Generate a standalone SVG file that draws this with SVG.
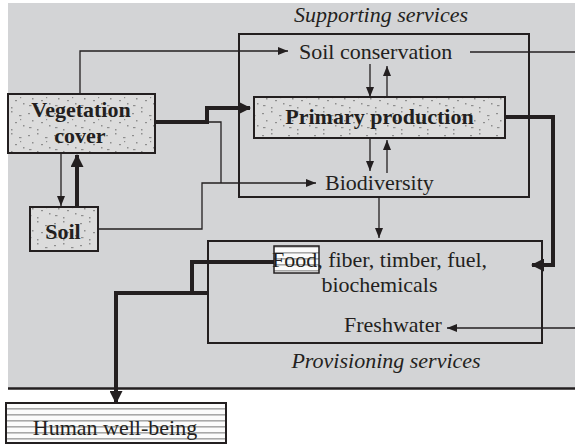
<svg xmlns="http://www.w3.org/2000/svg" width="575" height="447" viewBox="0 0 575 447">
<style>
.bx{stroke:#231f20;stroke-width:2;}
.st{fill:url(#stip);}
.ln{fill:none;stroke:#231f20;stroke-width:1.3;}
.tk{fill:none;stroke:#231f20;stroke-width:4;}
.t{font-family:"Liberation Serif","Times New Roman",serif;font-size:22px;fill:#231f20;}
.b{font-weight:bold;}
.i{font-style:italic;}
</style>
<defs>
<pattern id="stip" width="26" height="22" patternUnits="userSpaceOnUse">
<rect width="26" height="22" fill="#dcdcdc"/>
<g fill="#8e8e8e">
<rect x="2" y="3" width="2" height="1.2"/>
<rect x="11" y="1" width="1.5" height="1.5"/>
<rect x="19" y="5" width="2.5" height="1.2"/>
<rect x="6" y="10" width="1.5" height="1.5"/>
<rect x="15" y="12" width="2" height="1.2"/>
<rect x="23" y="15" width="1.5" height="1.5"/>
<rect x="3" y="17" width="2.5" height="1.2"/>
<rect x="11" y="19" width="1.5" height="1.5"/>
<rect x="20" y="9" width="1.2" height="1.2"/>
</g>
</pattern>
<pattern id="strp" width="10" height="6" patternUnits="userSpaceOnUse">
<rect width="10" height="6" fill="#fbfbfb"/>
<rect y="0" width="10" height="1.6" fill="#a8a8a8"/>
</pattern>
<marker id="a" markerUnits="userSpaceOnUse" markerWidth="10" markerHeight="8" refX="10" refY="4" orient="auto">
<path d="M0,0 L10,4 L0,8 z" fill="#231f20"/>
</marker>
<marker id="A" markerUnits="userSpaceOnUse" markerWidth="13" markerHeight="13" refX="12" refY="6.5" orient="auto">
<path d="M0,0 L13,6.5 L0,13 z" fill="#231f20"/>
</marker>
</defs>
<rect x="8" y="3" width="567" height="385" fill="#d3d4d6"/>
<line x1="8" y1="388.5" x2="575" y2="388.5" stroke="#231f20" stroke-width="2.5"/>

<text class="t i" x="381" y="22" text-anchor="middle">Supporting services</text>
<text class="t i" x="386" y="368" text-anchor="middle">Provisioning services</text>

<g id="supporting-services">
<rect class="bx" x="239" y="34" width="290" height="163" fill="none"/>
</g>
<g id="provisioning-services">
<rect class="bx" x="208" y="241" width="334" height="102" fill="none"/>
</g>

<g id="connectors">
<path class="ln" d="M80,94 V51 H288" marker-end="url(#a)"/>
<path class="ln" d="M470,52 H575"/>
<path class="ln" d="M370,64 V97" marker-end="url(#a)"/>
<path class="ln" d="M387,97 V66" marker-end="url(#a)"/>
<path class="ln" d="M370,138 V171" marker-end="url(#a)"/>
<path class="ln" d="M387,173 V140" marker-end="url(#a)"/>
<path class="ln" d="M207,122 H221 V183"/>
<path class="ln" d="M98,229 H202 V183 H316" marker-end="url(#a)"/>
<path class="ln" d="M61,153 V206" marker-end="url(#a)"/>
<path class="ln" d="M379,197 V238" marker-end="url(#a)"/>
<path class="ln" d="M575,328 H447" marker-end="url(#a)"/>
<path class="tk" d="M155,122 H207 V108 H250" marker-end="url(#A)"/>
<path class="tk" d="M77,207 V155" marker-end="url(#A)"/>
<path class="tk" d="M497,117 H553 V265 H532" marker-end="url(#A)"/>
<path class="tk" d="M274,262 H192 V293"/>
<path class="tk" d="M208,293 H116 V403" marker-end="url(#A)"/>
</g>

<g id="vegetation-cover">
<rect class="bx st" x="8" y="94" width="147" height="59"/>
<text class="t b" x="81" y="117" text-anchor="middle">Vegetation</text>
<text class="t b" x="80" y="143" text-anchor="middle">cover</text>
</g>
<g id="soil">
<rect class="bx st" x="30" y="207" width="68" height="44"/>
<text class="t b" x="63" y="239" text-anchor="middle">Soil</text>
</g>
<g id="primary-production">
<rect class="bx st" x="254" y="97" width="251" height="41"/>
<text class="t b" x="379.5" y="124" text-anchor="middle">Primary production</text>
</g>
<g id="soil-conservation">
<text class="t" x="299" y="59">Soil conservation</text>
</g>
<g id="biodiversity">
<text class="t" x="325" y="190">Biodiversity</text>
</g>
<g id="food">
<rect x="274" y="246" width="45" height="27" fill="url(#strp)" stroke="#231f20" stroke-width="1.5"/>
<text class="t" x="379.5" y="267" text-anchor="middle">Food, fiber, timber, fuel,</text>
<text class="t" x="379.5" y="292" text-anchor="middle">biochemicals</text>
</g>
<g id="freshwater">
<text class="t" x="344" y="332">Freshwater</text>
</g>
<g id="human-well-being">
<rect class="bx" x="6" y="403" width="220" height="40" fill="url(#strp)"/>
<text class="t" x="115" y="435" text-anchor="middle">Human well-being</text>
</g>
</svg>
